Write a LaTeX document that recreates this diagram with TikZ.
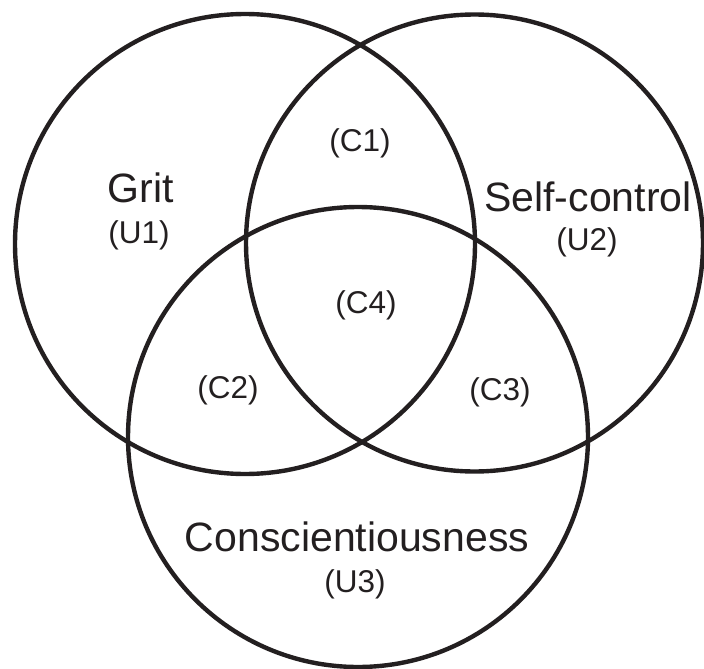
\documentclass[tikz,border=0pt]{standalone}
\usepackage{fontspec}
\setmainfont{Liberation Sans}
\definecolor{ink}{HTML}{231F20}
\begin{document}
\begin{tikzpicture}[x=1pt,y=-1pt,
  set/.style={circle, draw=ink, line width=4.4pt, inner sep=0pt, minimum size=#1},
  biglabel/.style={anchor=base, text=ink, inner sep=0pt, font=\fontsize{41}{46}\selectfont},
  smalllabel/.style={anchor=base, text=ink, inner sep=0pt, font=\fontsize{31.5}{36}\selectfont}]
\useasboundingbox (0,0) rectangle (704,669);
% the three sets
\node[set=460pt] (grit) at (245,244) {};
\node[set=457pt] (self) at (474.5,243) {};
\node[set=460pt] (consc) at (358,437) {};
% set names
\node[biglabel] (gritname) at (141,202) {Grit};
\node[smalllabel] (u1) at (139,243) {(U1)};
\node[biglabel] (selfname) at (588,211) {Self-control};
\node[smalllabel] (u2) at (587,250) {(U2)};
\node[biglabel] (conscname) at (357,551) {Conscientiousness};
\node[smalllabel] (u3) at (355,592) {(U3)};
% overlap regions
\node[smalllabel] (c1) at (360,151) {(C1)};
\node[smalllabel] (c2) at (228,398) {(C2)};
\node[smalllabel] (c3) at (500,400) {(C3)};
\node[smalllabel] (c4) at (366,313) {(C4)};
\end{tikzpicture}
\end{document}
